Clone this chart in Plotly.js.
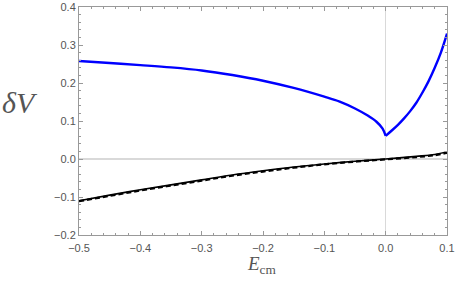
<!DOCTYPE html>
<html><head><meta charset="utf-8">
<script src="https://cdn.plot.ly/plotly-3.0.1.min.js"></script>
<style>html,body{margin:0;padding:0;background:#fff}#c{width:457px;height:281px}</style>
</head><body><div id="c"></div>
<script>
// Blue curve, left branch (E < 0) and right branch (E > 0)
const blueLeftX = [-0.5, -0.45, -0.4, -0.35, -0.3, -0.25, -0.2, -0.15, -0.1, -0.075, -0.05, -0.03, -0.015, -0.005, 0];
const blueLeftY = [0.258, 0.2525, 0.247, 0.241, 0.233, 0.221, 0.206, 0.187, 0.164, 0.151, 0.133, 0.115, 0.098, 0.080, 0.061];
const blueRightX = [0, 0.01, 0.02, 0.03, 0.04, 0.05, 0.06, 0.07, 0.08, 0.09, 0.1];
const blueRightY = [0.061, 0.075, 0.09, 0.107, 0.126, 0.148, 0.175, 0.205, 0.24, 0.28, 0.33];
// Black curves
const blackX = [-0.5, -0.45, -0.4, -0.35, -0.3, -0.25, -0.2, -0.15, -0.1, -0.05, 0, 0.05, 0.08, 0.1];
const solidY = [-0.110, -0.095, -0.081, -0.068, -0.055, -0.042, -0.031, -0.021, -0.013, -0.006, 0, 0.007, 0.012, 0.019];
const dashY  = [-0.111, -0.097, -0.083, -0.070, -0.057, -0.044, -0.033, -0.023, -0.014, -0.007, -0.001, 0.005, 0.010, 0.016];
const xTicks = [-0.5, -0.4, -0.3, -0.2, -0.1, 0, 0.1];
const yTicks = [-0.2, -0.1, 0, 0.1, 0.2, 0.3, 0.4];

const traces = [
  {x: blackX, y: dashY, mode: 'lines', line: {color: '#000', width: 2.2, dash: '5px,3px', shape: 'spline'}},
  {x: blackX, y: solidY, mode: 'lines', line: {color: '#000', width: 1.6, shape: 'spline'}},
  {x: blueLeftX, y: blueLeftY, mode: 'lines', line: {color: 'rgb(0,0,255)', width: 2.4, shape: 'spline'}},
  {x: blueRightX, y: blueRightY, mode: 'lines', line: {color: 'rgb(0,0,255)', width: 2.4, shape: 'spline'}}
];
const axisCommon = {
  showline: true, linecolor: '#999', linewidth: 1, mirror: 'allticks',
  ticks: 'inside', ticklen: 4, tickcolor: '#999', tickwidth: 1,
  showgrid: false, zeroline: true, zerolinecolor: '#d9d9d9', zerolinewidth: 1.3,
  tickfont: {family: 'Liberation Sans, Arial, sans-serif', size: 11, color: '#555'},
  tickformat: '.1f',
  minor: {dtick: 0.02, ticklen: 2, tickcolor: '#999', ticks: 'inside', showgrid: false}
};
const layout = {
  width: 457, height: 281,
  margin: {l: 79, r: 10, t: 7, b: 46},
  showlegend: false,
  paper_bgcolor: '#fff', plot_bgcolor: '#fff',
  xaxis: Object.assign({}, axisCommon, {range: [-0.5, 0.1], tickvals: xTicks, ticklabelstandoff: 3}),
  yaxis: Object.assign({}, axisCommon, {range: [-0.2, 0.4], tickvals: yTicks}),
  annotations: [
    {text: '<i>δV</i>', xref: 'paper', yref: 'paper', x: -0.16, y: 0.58, xanchor: 'center', yanchor: 'middle', showarrow: false,
     font: {family: 'Liberation Serif, Times New Roman, serif', size: 30, color: '#555'}},
    {text: '<i>E</i><sub>cm</sub>', xref: 'paper', yref: 'paper', x: 0.497, y: -0.13, xanchor: 'center', yanchor: 'middle', showarrow: false,
     font: {family: 'Liberation Serif, Times New Roman, serif', size: 19, color: '#555'}}
  ]
};
Plotly.newPlot('c', traces, layout, {displayModeBar: false, staticPlot: true});
</script></body></html>
